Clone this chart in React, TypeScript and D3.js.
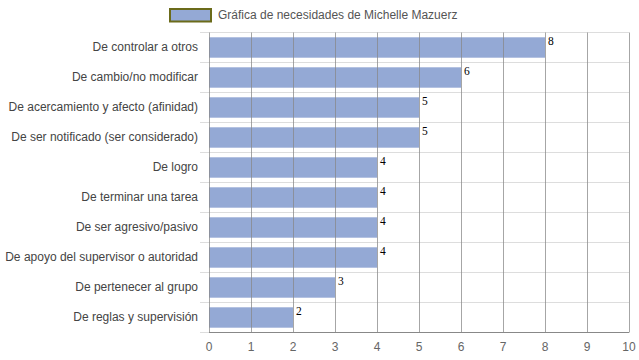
import React from "react";
import * as d3 from "d3";

const categories = [
  "De controlar a otros",
  "De cambio/no modificar",
  "De acercamiento y afecto (afinidad)",
  "De ser notificado (ser considerado)",
  "De logro",
  "De terminar una tarea",
  "De ser agresivo/pasivo",
  "De apoyo del supervisor o autoridad",
  "De pertenecer al grupo",
  "De reglas y supervisión",
];
const values = [8, 6, 5, 5, 4, 4, 4, 4, 3, 2];
const xTicks = [0, 1, 2, 3, 4, 5, 6, 7, 8, 9, 10];
const seriesName = "Gráfica de necesidades de Michelle Mazuerz";

export default function App() {
  const W = 639, H = 360;
  const left = 209, right = 629, top = 32.5, bottom = 332.5;
  const x = d3.scaleLinear().domain([0, 10]).range([left, right]);
  const y = d3.scaleBand<string>().domain(categories).range([top, bottom]).paddingInner(0.32).paddingOuter(0.16);
  const rowH = (bottom - top) / categories.length;
  const font = "'Liberation Sans', Arial, sans-serif";
  return (
    <svg width={W} height={H} style={{ position: "absolute", left: 0, top: 0 }}>
      <rect x={0} y={0} width={W} height={H} fill="#fff" />
      {/* legend */}
      <rect x={170} y={9} width={41} height={12.5} fill="#94a9d5" stroke="#6b6b1a" strokeWidth={2} />
      <text x={218} y={18.5} fontFamily={font} fontSize={12} fill="#555">{seriesName}</text>
      {/* horizontal row lines */}
      {d3.range(categories.length + 1).map((i) => (
        <line key={"h" + i} x1={200} x2={right} y1={top + i * rowH} y2={top + i * rowH} stroke="#ddd" strokeWidth={1} />
      ))}
      {/* bars */}
      {categories.map((c, i) => (
        <rect key={c} x={x(0)} y={y(c)!} width={x(values[i]) - x(0)} height={y.bandwidth()} fill="#94a9d5" />
      ))}
      {/* vertical grid */}
      {xTicks.map((t) => (
        <line key={"v" + t} x1={Math.round(x(t)) + 0.5} x2={Math.round(x(t)) + 0.5} y1={top} y2={bottom} stroke="#888" strokeOpacity={0.75} strokeWidth={1} />
      ))}
      {/* bottom axis line */}
      <line x1={left} x2={right} y1={bottom} y2={bottom} stroke="#888" strokeWidth={1} />
      {/* tick labels */}
      {xTicks.map((t) => (
        <text key={"t" + t} x={x(t)} y={351} textAnchor="middle" fontFamily={font} fontSize={12} fill="#666">{t}</text>
      ))}
      {/* category labels */}
      {categories.map((c) => (
        <text key={"l" + c} x={198} y={y(c)! + y.bandwidth() / 2 + 3.3} textAnchor="end" fontFamily={font} fontSize={12} fill="#444">{c}</text>
      ))}
      {/* value labels */}
      {categories.map((c, i) => (
        <text key={"v" + c} x={x(values[i]) + 3} y={y(c)! + 7.5} fontFamily="'Liberation Serif', 'Times New Roman', serif" fontSize={11.5} fill="#000">{values[i]}</text>
      ))}
    </svg>
  );
}
